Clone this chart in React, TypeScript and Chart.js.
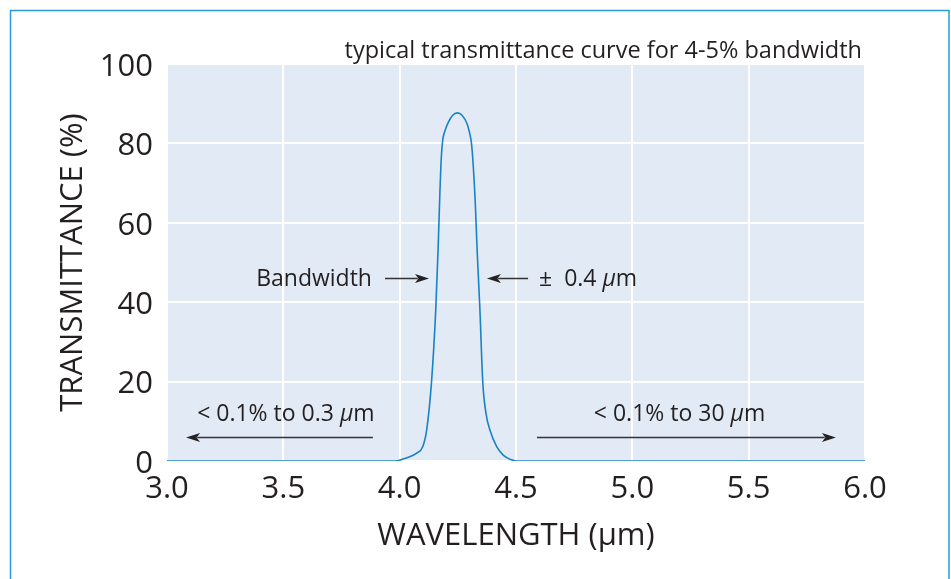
import React, { useEffect, useRef } from "react";
import { Chart, registerables } from "chart.js";

Chart.register(...registerables);

// Curve data (wavelength in µm, transmittance in %)
const wavelength = [
  3.0, 3.98, 4.014, 4.073, 4.099, 4.116, 4.137, 4.155, 4.165, 4.172, 4.179, 4.185, 4.195, 4.21,
  4.228, 4.248, 4.268, 4.29, 4.3, 4.308, 4.315, 4.325, 4.333, 4.345, 4.357, 4.371, 4.388, 4.417,
  4.445, 4.48, 4.5, 6.0,
];
const transmittance = [
  0, 0, 0.5, 2, 3.6, 7.8, 20, 38, 53, 66, 76.5, 80.8, 83.2, 85.4,
  87.1, 87.7, 87.1, 84.9, 82.8, 80.3, 75.5, 65, 53, 38, 20, 12, 7.8, 3.6,
  1.5, 0.3, 0, 0,
];

const xTicks = [3.0, 3.5, 4.0, 4.5, 5.0, 5.5, 6.0];
const yTicks = [0, 20, 40, 60, 80, 100];

const xTitle = "WAVELENGTH (μm)";
const yTitle = "TRANSMITTANCE (%)";
const noteTitle = "typical transmittance curve for 4-5% bandwidth";

// annotation texts: parts [text, italic]
const bandwidthLabel: [string, boolean][] = [["Bandwidth", false]];
const toleranceLabel: [string, boolean][] = [["±  0.4 ", false], ["μ", true], ["m", false]];
const lowLabel: [string, boolean][] = [["< 0.1% to 0.3 ", false], ["μ", true], ["m", false]];
const highLabel: [string, boolean][] = [["< 0.1% to 30 ", false], ["μ", true], ["m", false]];

// annotation anchors in data coordinates
const bandwidthText = { x: 3.881, y: 45.7, align: "right" };
const bandwidthArrow = { x1: 3.937, x2: 4.126, y: 46.1 };
const toleranceText = { x: 4.599, y: 45.7, align: "left" };
const toleranceArrow = { x1: 4.552, x2: 4.375, y: 46.1 };
const lowText = { x: 3.511, y: 11.7, align: "center" };
const lowArrow = { x1: 3.885, x2: 3.082, y: 6.0 };
const highText = { x: 5.203, y: 11.7, align: "center" };
const highArrow = { x1: 4.59, x2: 5.875, y: 6.0 };

const FONT = "'Open Sans', 'DejaVu Sans', sans-serif";
const TEXT = "#231f20";

function drawRich(ctx: CanvasRenderingContext2D, parts: [string, boolean][], x: number, y: number, align: string, size: number) {
  const widths = parts.map(([t, it]) => {
    ctx.font = `${it ? "italic " : ""}${size}px ${FONT}`;
    return ctx.measureText(t).width;
  });
  const total = widths.reduce((a, b) => a + b, 0);
  let cx = align === "right" ? x - total : align === "center" ? x - total / 2 : x;
  ctx.textAlign = "left";
  ctx.textBaseline = "middle";
  ctx.fillStyle = TEXT;
  parts.forEach(([t, it], i) => {
    ctx.font = `${it ? "italic " : ""}${size}px ${FONT}`;
    ctx.fillText(t, cx, y);
    cx += widths[i];
  });
}

function drawArrow(ctx: CanvasRenderingContext2D, x1: number, x2: number, y: number) {
  const dir = Math.sign(x2 - x1);
  const headLen = 14;
  const headHalf = 4.5;
  ctx.strokeStyle = "#333333";
  ctx.fillStyle = "#222222";
  ctx.lineWidth = 1.5;
  ctx.beginPath();
  ctx.moveTo(x1, y);
  ctx.lineTo(x2 - dir * headLen * 0.8, y);
  ctx.stroke();
  ctx.beginPath();
  ctx.moveTo(x2, y);
  ctx.lineTo(x2 - dir * headLen, y - headHalf);
  ctx.lineTo(x2 - dir * headLen * 0.75, y);
  ctx.lineTo(x2 - dir * headLen, y + headHalf);
  ctx.closePath();
  ctx.fill();
}

const decorPlugin = {
  id: "decor",
  beforeDraw(chart: any) {
    const { ctx, chartArea } = chart;
    ctx.save();
    ctx.fillStyle = "#ffffff";
    ctx.fillRect(0, 0, chart.width, chart.height);
    ctx.strokeStyle = "#2c9ad8";
    ctx.lineWidth = 1.5;
    ctx.strokeRect(10.5, 10.5, 938.5, 620);
    ctx.fillStyle = "#e2eaf5";
    ctx.fillRect(chartArea.left, chartArea.top, chartArea.right - chartArea.left, chartArea.bottom - chartArea.top);
    ctx.restore();
  },
  afterDatasetsDraw(chart: any) {
    const { ctx, chartArea, scales } = chart;
    const xs = scales.x;
    const ys = scales.y;
    ctx.save();
    // note title
    drawRich(ctx, [[noteTitle, false]], chartArea.right - 3, chartArea.top - 13, "right", 23.5);
    const texts = [
      [bandwidthLabel, bandwidthText],
      [toleranceLabel, toleranceText],
      [lowLabel, lowText],
      [highLabel, highText],
    ] as const;
    texts.forEach(([parts, pos]: any) => {
      drawRich(ctx, parts, xs.getPixelForValue(pos.x), ys.getPixelForValue(pos.y), pos.align, 23);
    });
    [bandwidthArrow, toleranceArrow, lowArrow, highArrow].forEach((a) => {
      drawArrow(ctx, xs.getPixelForValue(a.x1), xs.getPixelForValue(a.x2), Math.round(ys.getPixelForValue(a.y)) + 0.5);
    });
    ctx.restore();
  },
};

export default function App() {
  const canvasRef = useRef<HTMLCanvasElement | null>(null);

  useEffect(() => {
    if (!canvasRef.current) return;
    const data = wavelength.map((x, i) => ({ x, y: transmittance[i] }));
    const chart = new Chart(canvasRef.current, {
      type: "line",
      data: {
        datasets: [
          {
            data,
            borderColor: "#1883c6",
            borderWidth: 1.6,
            pointRadius: 0,
            cubicInterpolationMode: "monotone",
            fill: false,
          },
        ],
      },
      options: {
        animation: false,
        responsive: true,
        maintainAspectRatio: false,
        layout: { padding: { left: 0, top: 64, right: 86, bottom: 0 } },
        plugins: { legend: { display: false }, tooltip: { enabled: false } },
        scales: {
          x: {
            type: "linear",
            min: 3,
            max: 6,
            afterFit: (s: any) => {
              s.height = 118;
            },
            afterBuildTicks: (s: any) => {
              s.ticks = xTicks.map((v) => ({ value: v }));
            },
            ticks: {
              padding: 10,
              color: TEXT,
              font: { family: FONT, size: 31 },
              callback: (v: any) => Number(v).toFixed(1),
              maxRotation: 0,
            },
            grid: { color: "#ffffff", lineWidth: 2, drawTicks: false },
            border: { display: false },
            title: {
              display: true,
              text: xTitle,
              color: TEXT,
              font: { family: FONT, size: 31 },
              padding: 24,
            },
          },
          y: {
            min: 0,
            max: 100,
            afterFit: (s: any) => {
              s.width = 167;
            },
            afterBuildTicks: (s: any) => {
              s.ticks = yTicks.map((v) => ({ value: v }));
            },
            ticks: {
              padding: 14,
              labelOffset: 3,
              color: TEXT,
              font: { family: FONT, size: 31 },
            },
            grid: { color: "#ffffff", lineWidth: 2, drawTicks: false },
            border: { display: false },
            title: {
              display: true,
              text: yTitle,
              color: TEXT,
              font: { family: FONT, size: 31 },
              padding: 55,
            },
          },
        },
      },
      plugins: [decorPlugin],
    });
    return () => chart.destroy();
  }, []);

  return (
    <div style={{ position: "fixed", left: 0, top: 0, width: 951, height: 579 }}>
      <canvas ref={canvasRef} />
    </div>
  );
}
